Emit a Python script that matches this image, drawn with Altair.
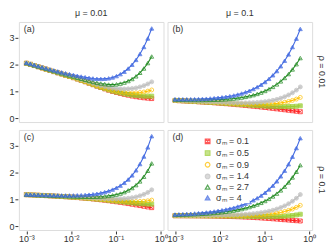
import altair as alt
import pandas as pd

X = [0.001, 0.001223, 0.001496, 0.00183, 0.002239, 0.002738, 0.00335, 0.004097, 0.005012, 0.006131,
     0.007499, 0.009173, 0.01122, 0.01372, 0.01679, 0.02054, 0.02512, 0.03073, 0.03758, 0.04597,
     0.05623, 0.06879, 0.08414, 0.1029, 0.1259, 0.154, 0.1884, 0.2304, 0.2818, 0.3447, 0.4217, 0.5158, 0.631]

SERIES = ["σₘ = 0.1", "σₘ = 0.5", "σₘ = 0.9", "σₘ = 1.4", "σₘ = 2.7", "σₘ = 4"]
STROKES = ["#FF2020", "#9ACD32", "#FFC000", "#BEBEBE", "#228B22", "#4169E1"]
FILLS = ["transparent", "#9ACD32", "transparent", "#BEBEBE", "transparent", "#4169E1"]
SHAPES = ["M-1,-1H1V1H-1Z M-1,-1L1,1 M-1,1L1,-1", "square", "circle", "circle", "triangle-up", "triangle-up"]

MU = ["μ = 0.01", "μ = 0.1"]
RHO = ["ρ = 0.01", "ρ = 0.1"]
TAGS = ["(a)", "(b)", "(c)", "(d)"]

# panel (a): mu=0.01, rho=0.01
A_01 = [2.04, 2.0, 1.955, 1.91, 1.865, 1.82, 1.775, 1.73, 1.685, 1.64, 1.595, 1.55, 1.505, 1.455, 1.405, 1.355, 1.3, 1.245, 1.19, 1.14, 1.09, 1.04, 0.995, 0.955, 0.92, 0.885, 0.855, 0.825, 0.8, 0.78, 0.76, 0.745, 0.73]
A_05 = [2.04, 2.0, 1.955, 1.91, 1.865, 1.82, 1.776, 1.731, 1.686, 1.641, 1.596, 1.551, 1.507, 1.457, 1.407, 1.358, 1.304, 1.249, 1.195, 1.147, 1.098, 1.05, 1.007, 0.97, 0.938, 0.907, 0.882, 0.858, 0.84, 0.829, 0.82, 0.819, 0.82]
A_09 = [2.04, 2.001, 1.956, 1.911, 1.866, 1.821, 1.777, 1.732, 1.688, 1.643, 1.599, 1.555, 1.511, 1.462, 1.414, 1.365, 1.313, 1.261, 1.209, 1.163, 1.119, 1.075, 1.038, 1.007, 0.984, 0.963, 0.951, 0.942, 0.943, 0.955, 0.974, 1.007, 1.05]
A_14 = [2.044, 2.004, 1.96, 1.916, 1.872, 1.828, 1.784, 1.741, 1.698, 1.655, 1.613, 1.571, 1.53, 1.484, 1.439, 1.395, 1.347, 1.3, 1.255, 1.216, 1.18, 1.145, 1.119, 1.1, 1.091, 1.086, 1.091, 1.102, 1.125, 1.162, 1.209, 1.273, 1.35]
A_27 = [2.045, 2.006, 1.962, 1.918, 1.875, 1.832, 1.789, 1.747, 1.705, 1.664, 1.624, 1.585, 1.547, 1.505, 1.465, 1.426, 1.386, 1.348, 1.313, 1.288, 1.267, 1.252, 1.249, 1.26, 1.286, 1.324, 1.381, 1.455, 1.555, 1.686, 1.846, 2.046, 2.29]
A_40 = [2.055, 2.018, 1.976, 1.934, 1.894, 1.854, 1.814, 1.776, 1.739, 1.704, 1.67, 1.638, 1.609, 1.577, 1.548, 1.523, 1.497, 1.477, 1.462, 1.46, 1.466, 1.481, 1.514, 1.564, 1.636, 1.726, 1.844, 1.986, 2.164, 2.383, 2.643, 2.958, 3.33]

# panel (b): mu=0.1, rho=0.01
B_01 = [0.66, 0.652, 0.644, 0.636, 0.628, 0.62, 0.611, 0.602, 0.593, 0.584, 0.574, 0.563, 0.552, 0.54, 0.528, 0.515, 0.502, 0.489, 0.475, 0.461, 0.446, 0.431, 0.416, 0.4, 0.384, 0.367, 0.35, 0.333, 0.315, 0.297, 0.279, 0.26, 0.242]
B_05 = [0.661, 0.654, 0.646, 0.638, 0.63, 0.623, 0.614, 0.606, 0.598, 0.589, 0.58, 0.571, 0.561, 0.55, 0.54, 0.529, 0.519, 0.509, 0.498, 0.488, 0.478, 0.468, 0.46, 0.452, 0.445, 0.438, 0.434, 0.431, 0.431, 0.433, 0.438, 0.447, 0.462]
B_09 = [0.663, 0.656, 0.648, 0.641, 0.634, 0.627, 0.619, 0.611, 0.604, 0.597, 0.589, 0.581, 0.573, 0.565, 0.557, 0.549, 0.542, 0.536, 0.531, 0.526, 0.523, 0.521, 0.522, 0.524, 0.53, 0.539, 0.552, 0.57, 0.593, 0.624, 0.663, 0.711, 0.772]
B_14 = [0.665, 0.658, 0.651, 0.645, 0.638, 0.632, 0.625, 0.618, 0.612, 0.607, 0.601, 0.594, 0.589, 0.583, 0.579, 0.574, 0.572, 0.571, 0.571, 0.574, 0.579, 0.587, 0.6, 0.616, 0.637, 0.665, 0.7, 0.744, 0.798, 0.864, 0.945, 1.043, 1.162]
B_27 = [0.69, 0.686, 0.683, 0.681, 0.679, 0.678, 0.677, 0.677, 0.679, 0.682, 0.686, 0.69, 0.697, 0.705, 0.717, 0.73, 0.747, 0.768, 0.793, 0.824, 0.859, 0.902, 0.953, 1.012, 1.082, 1.163, 1.257, 1.368, 1.494, 1.639, 1.81, 2.005, 2.232]
B_40 = [0.706, 0.705, 0.705, 0.705, 0.707, 0.709, 0.713, 0.718, 0.726, 0.735, 0.746, 0.76, 0.776, 0.795, 0.819, 0.846, 0.88, 0.919, 0.966, 1.021, 1.084, 1.157, 1.244, 1.344, 1.461, 1.595, 1.75, 1.929, 2.133, 2.368, 2.64, 2.952, 3.312]

# panel (c): mu=0.01, rho=0.1
C_01 = [1.17, 1.163, 1.156, 1.149, 1.142, 1.135, 1.127, 1.119, 1.111, 1.103, 1.094, 1.084, 1.074, 1.063, 1.051, 1.039, 1.026, 1.012, 0.997, 0.981, 0.964, 0.946, 0.927, 0.907, 0.886, 0.864, 0.841, 0.817, 0.792, 0.767, 0.741, 0.715, 0.69]
C_05 = [1.17, 1.163, 1.156, 1.149, 1.143, 1.136, 1.128, 1.12, 1.112, 1.104, 1.096, 1.086, 1.076, 1.066, 1.055, 1.043, 1.031, 1.018, 1.005, 0.991, 0.976, 0.96, 0.944, 0.928, 0.912, 0.896, 0.88, 0.865, 0.85, 0.838, 0.828, 0.821, 0.82]
C_09 = [1.17, 1.164, 1.157, 1.15, 1.143, 1.136, 1.129, 1.121, 1.113, 1.106, 1.097, 1.088, 1.079, 1.069, 1.058, 1.048, 1.037, 1.026, 1.014, 1.001, 0.989, 0.977, 0.964, 0.953, 0.942, 0.932, 0.925, 0.919, 0.917, 0.92, 0.928, 0.944, 0.97]
C_14 = [1.171, 1.164, 1.158, 1.151, 1.144, 1.138, 1.131, 1.123, 1.116, 1.109, 1.102, 1.094, 1.086, 1.077, 1.069, 1.061, 1.052, 1.044, 1.036, 1.029, 1.023, 1.018, 1.015, 1.015, 1.018, 1.025, 1.038, 1.058, 1.087, 1.128, 1.182, 1.255, 1.35]
C_27 = [1.173, 1.166, 1.16, 1.154, 1.148, 1.142, 1.136, 1.13, 1.124, 1.119, 1.114, 1.108, 1.103, 1.099, 1.095, 1.092, 1.091, 1.092, 1.095, 1.101, 1.11, 1.125, 1.146, 1.175, 1.213, 1.264, 1.331, 1.416, 1.525, 1.663, 1.837, 2.056, 2.33]
C_40 = [1.178, 1.173, 1.168, 1.163, 1.159, 1.155, 1.151, 1.148, 1.145, 1.144, 1.143, 1.143, 1.145, 1.148, 1.152, 1.16, 1.172, 1.187, 1.206, 1.232, 1.265, 1.307, 1.359, 1.425, 1.507, 1.609, 1.734, 1.887, 2.075, 2.306, 2.586, 2.924, 3.34]

# panel (d): mu=0.1, rho=0.1
D_01 = [0.39, 0.389, 0.388, 0.387, 0.386, 0.385, 0.384, 0.382, 0.38, 0.378, 0.376, 0.373, 0.37, 0.366, 0.362, 0.357, 0.352, 0.346, 0.34, 0.333, 0.325, 0.317, 0.308, 0.298, 0.288, 0.277, 0.266, 0.254, 0.242, 0.23, 0.218, 0.206, 0.195]
D_05 = [0.391, 0.391, 0.39, 0.389, 0.389, 0.388, 0.388, 0.387, 0.385, 0.384, 0.383, 0.382, 0.38, 0.378, 0.376, 0.373, 0.371, 0.368, 0.366, 0.364, 0.361, 0.36, 0.358, 0.357, 0.357, 0.358, 0.361, 0.366, 0.373, 0.384, 0.399, 0.419, 0.445]
D_09 = [0.393, 0.393, 0.393, 0.392, 0.392, 0.393, 0.393, 0.392, 0.392, 0.392, 0.393, 0.393, 0.393, 0.393, 0.394, 0.395, 0.396, 0.398, 0.401, 0.404, 0.409, 0.416, 0.424, 0.434, 0.448, 0.465, 0.487, 0.513, 0.546, 0.588, 0.638, 0.7, 0.775]
D_14 = [0.396, 0.396, 0.396, 0.396, 0.397, 0.398, 0.399, 0.399, 0.401, 0.402, 0.404, 0.406, 0.409, 0.412, 0.416, 0.42, 0.426, 0.433, 0.443, 0.454, 0.467, 0.483, 0.504, 0.528, 0.558, 0.594, 0.639, 0.692, 0.756, 0.834, 0.928, 1.04, 1.175]
D_27 = [0.421, 0.425, 0.429, 0.433, 0.439, 0.445, 0.453, 0.461, 0.469, 0.48, 0.492, 0.506, 0.521, 0.538, 0.558, 0.58, 0.607, 0.636, 0.671, 0.711, 0.755, 0.807, 0.867, 0.935, 1.014, 1.105, 1.21, 1.33, 1.468, 1.626, 1.81, 2.021, 2.265]
D_40 = [0.436, 0.442, 0.449, 0.456, 0.465, 0.474, 0.486, 0.498, 0.513, 0.529, 0.548, 0.57, 0.594, 0.621, 0.653, 0.688, 0.73, 0.776, 0.831, 0.893, 0.963, 1.043, 1.136, 1.242, 1.365, 1.505, 1.666, 1.851, 2.06, 2.301, 2.579, 2.898, 3.265]

PANELS = [
    (MU[0], RHO[0], TAGS[0], [A_01, A_05, A_09, A_14, A_27, A_40]),
    (MU[1], RHO[0], TAGS[1], [B_01, B_05, B_09, B_14, B_27, B_40]),
    (MU[0], RHO[1], TAGS[2], [C_01, C_05, C_09, C_14, C_27, C_40]),
    (MU[1], RHO[1], TAGS[3], [D_01, D_05, D_09, D_14, D_27, D_40]),
]

rows = []
for mu, rho, tag, series_vals in PANELS:
    for s, vals in zip(SERIES, series_vals):
        for k, (xv, yv) in enumerate(zip(X, vals)):
            rows.append({"mu": mu, "rho": rho, "tag": tag, "s": s, "k": k, "x": xv, "y": yv})
df = pd.DataFrame(rows)

FONT = "Liberation Sans"
TXT = "#333333"

x_enc = alt.X("x:Q", scale=alt.Scale(type="log", domain=[0.00068, 1.16], nice=False),
              axis=alt.Axis(values=[0.001, 0.01, 0.1, 1], title=None, grid=False, domain=False,
                            tickSize=3, tickColor=TXT, labelColor=TXT, labelFontSize=9, labelPadding=1,
                            labelExpr="datum.value < 0.005 ? '10⁻³' : datum.value < 0.05 ? '10⁻²' : datum.value < 0.5 ? '10⁻¹' : '10⁰'"))
y_enc = alt.Y("y:Q", scale=alt.Scale(domain=[-0.14, 3.57], nice=False, zero=False),
              axis=alt.Axis(values=[0, 1, 2, 3], title=None, grid=False, domain=False,
                            tickSize=3, tickColor=TXT, labelColor=TXT, labelFontSize=9, labelPadding=1))

stroke_scale = alt.Scale(domain=SERIES, range=STROKES)
legend = alt.Legend(title=None, orient="none", legendX=186, legendY=116, labelFontSize=9,
                    labelFont=FONT, labelColor=TXT, symbolSize=22, symbolStrokeWidth=1.2,
                    rowPadding=0.8, labelOffset=4, fillColor="white")

base = alt.Chart(df)
lines = base.mark_line(strokeWidth=1.1).encode(
    x=x_enc, y=y_enc,
    stroke=alt.Stroke("s:N", scale=stroke_scale, sort=SERIES, legend=legend),
    detail="s:N",
)
points = base.mark_point(size=16, strokeWidth=1, opacity=0.75, filled=False).encode(
    x=x_enc, y=y_enc,
    stroke=alt.Stroke("s:N", scale=stroke_scale, sort=SERIES, legend=legend),
    fill=alt.Fill("s:N", scale=alt.Scale(domain=SERIES, range=FILLS), sort=SERIES, legend=legend),
    shape=alt.Shape("s:N", scale=alt.Scale(domain=SERIES, range=SHAPES), sort=SERIES, legend=legend),
)
tags = base.mark_text(align="left", baseline="top", fontSize=9, font=FONT, color=TXT).encode(
    x=alt.value(5), y=alt.value(3), text="tag:N"
).transform_filter((alt.datum.k == 0) & (alt.datum.s == SERIES[0]))

chart = alt.layer(lines, points, tags).properties(width=146, height=101).facet(
    column=alt.Column("mu:N", sort=MU, title=None,
                      header=alt.Header(labelFontSize=9, labelFont=FONT, labelColor=TXT, labelPadding=3)),
    row=alt.Row("rho:N", sort=RHO, title=None,
                header=alt.Header(labelFontSize=9, labelFont=FONT, labelColor=TXT, labelOrient="right",
                                  labelAngle=90, labelPadding=4)),
    spacing={"row": 6, "column": 2},
).configure_view(stroke="#333333", strokeWidth=1).configure(
    font=FONT
).properties(padding=0)

chart.save("out.html", embed_options={"renderer": "svg", "actions": False})
